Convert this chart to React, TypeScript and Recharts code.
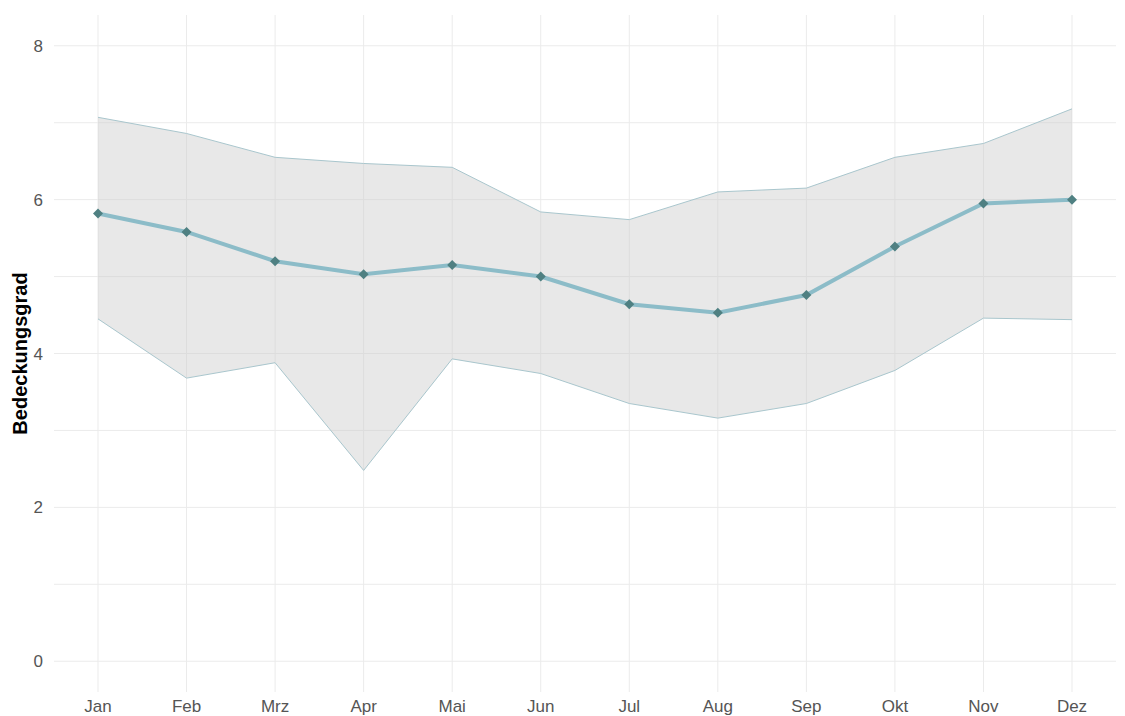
import {
  ComposedChart,
  Area,
  Line,
  XAxis,
  YAxis,
  CartesianGrid,
} from 'recharts';

// monthly cloud cover (octas): mean with min/max range
const months = ['Jan', 'Feb', 'Mrz', 'Apr', 'Mai', 'Jun', 'Jul', 'Aug', 'Sep', 'Okt', 'Nov', 'Dez'];
const meanCover = [5.82, 5.58, 5.2, 5.03, 5.15, 5.0, 4.64, 4.53, 4.76, 5.39, 5.95, 6.0];
const lowCover = [4.45, 3.68, 3.88, 2.48, 3.93, 3.74, 3.35, 3.16, 3.35, 3.78, 4.46, 4.44];
const highCover = [7.07, 6.86, 6.55, 6.47, 6.42, 5.84, 5.74, 6.1, 6.15, 6.55, 6.73, 7.18];
const yTicks = [0, 1, 2, 3, 4, 5, 6, 7, 8];

const data = months.map((m, i) => ({
  month: m,
  mean: meanCover[i],
  range: [lowCover[i], highCover[i]],
}));

const tickStyle = { fill: '#555', fontSize: 17, fontFamily: 'Liberation Sans, Arial, sans-serif' };

function Diamond(props: any) {
  const { cx, cy } = props;
  if (cx == null || cy == null) return null;
  const r = 5;
  return (
    <polygon
      points={`${cx},${cy - r} ${cx + r},${cy} ${cx},${cy + r} ${cx - r},${cy}`}
      fill="#4f8082"
    />
  );
}

export default function App() {
  return (
    <div style={{ position: 'absolute', left: 0, top: 0, background: '#fff' }}>
      <ComposedChart
        width={1125}
        height={716}
        data={data}
        margin={{ top: 15, right: 9, bottom: 0, left: 0 }}
      >
        {/* grid only at tick values, no frame around the plot */}
        <CartesianGrid stroke="#ebebeb" strokeWidth={1} syncWithTicks />
        <XAxis
          dataKey="month"
          axisLine={false}
          tickLine={false}
          tick={tickStyle}
          height={24}
          padding={{ left: 44, right: 44 }}
        />
        <YAxis
          type="number"
          domain={[-0.4, 8.4]}
          ticks={yTicks}
          tickFormatter={(v: number) => (v % 2 === 0 ? String(v) : '')}
          axisLine={false}
          tickLine={false}
          tickMargin={5}
          tick={tickStyle}
          width={54}
          label={{
            value: 'Bedeckungsgrad',
            angle: -90,
            position: 'insideLeft',
            offset: 20,
            style: {
              textAnchor: 'middle',
              fontWeight: 'bold',
              fontSize: 20,
              fill: '#000',
              fontFamily: 'Liberation Sans, Arial, sans-serif',
            },
          }}
        />
        <Area
          type="linear"
          dataKey="range"
          fill="#cccccc"
          fillOpacity={0.45}
          stroke="#a9c6cd"
          strokeWidth={1}
          isAnimationActive={false}
        />
        <Line
          type="linear"
          dataKey="mean"
          stroke="#8cbcc8"
          strokeWidth={4}
          dot={<Diamond />}
          activeDot={false}
          isAnimationActive={false}
        />
      </ComposedChart>
    </div>
  );
}
